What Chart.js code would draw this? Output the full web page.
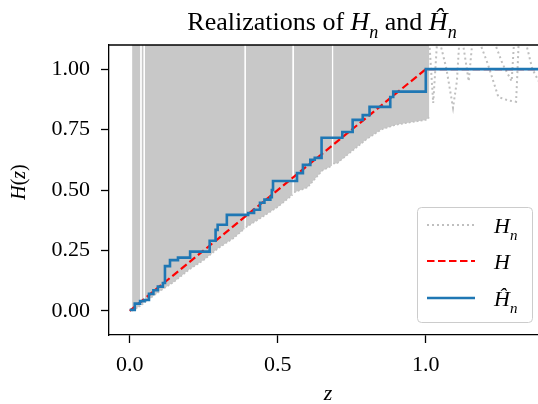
<!DOCTYPE html>
<html>
<head>
<meta charset="utf-8">
<script src="https://cdn.jsdelivr.net/npm/chart.js@4.4.0/dist/chart.umd.min.js"></script>
<style>
  body { margin: 0; background: #fff; }
  canvas { display: block; }
</style>
</head>
<body>
<canvas id="realizations" width="538" height="404"></canvas>
<script>
// lower edge of the band covered by the H_n realizations (null = a thin gap between curves)
var hnLowZ = [0.008, 0.036, 0.038, 0.040, 0.047, 0.049, 0.051, 0.10, 0.15, 0.20, 0.25, 0.30, 0.35, 0.388, 0.39, 0.392,
  0.45, 0.50, 0.55, 0.552, 0.555, 0.60, 0.65, 0.683, 0.685, 0.687, 0.70, 0.75, 0.80, 0.85, 0.90, 0.95, 1.00, 1.012];
var hnLowH = [0.00, 0.02, null, 0.025, 0.03, null, 0.035, 0.08, 0.12, 0.17, 0.21, 0.26, 0.30, 0.34, null, 0.345,
  0.39, 0.43, 0.48, null, 0.49, 0.51, 0.58, 0.60, null, 0.61, 0.61, 0.66, 0.71, 0.75, 0.77, 0.78, 0.79, 0.80];

// H_n realizations past z = 1
var tailZ = [
  [1.010, 1.025, 1.040],
  [1.040, 1.070, 1.092, 1.105, 1.115],
  [1.120, 1.145, 1.160],
  [1.170, 1.210, 1.245, 1.280, 1.305, 1.310, 1.315],
  [1.220, 1.260, 1.290, 1.300],
  [1.330, 1.360, 1.390]
];
var tailH = [
  [1.15, 0.86, 1.15],
  [1.15, 1.00, 0.84, 0.95, 1.15],
  [1.15, 0.95, 1.15],
  [1.15, 1.02, 0.885, 0.87, 0.865, 1.00, 1.15],
  [1.15, 1.02, 0.95, 1.15],
  [1.15, 1.00, 0.93]
];

// true H
var hZ = [0, 1, 1.45];
var hH = [0, 1, 1];

// estimate H-hat_n (step function, value after each jump)
var hatZ = [0, 0.017, 0.035, 0.05, 0.065, 0.08, 0.095, 0.112, 0.119, 0.136, 0.163, 0.204, 0.27, 0.29, 0.297, 0.328,
  0.40, 0.42, 0.44, 0.455, 0.475, 0.48, 0.484, 0.565, 0.585, 0.61, 0.625, 0.648, 0.718, 0.753, 0.787, 0.81, 0.88, 0.89, 1.0, 1.45];
var hatH = [0.004, 0.03, 0.04, 0.045, 0.07, 0.085, 0.10, 0.115, 0.185, 0.21, 0.22, 0.245, 0.29, 0.335, 0.356, 0.397,
  0.405, 0.418, 0.447, 0.46, 0.47, 0.50, 0.537, 0.57, 0.604, 0.625, 0.633, 0.716, 0.74, 0.79, 0.81, 0.844, 0.885, 0.907, 1.0, 1.0];

var yTicks = [0, 0.25, 0.5, 0.75, 1.0];
var xTicks = [0, 0.5, 1.0];

var SERIF = '"Liberation Serif", "Times New Roman", serif';
var GRAY = '#c8c8c8';

function pts(xs, ys) {
  return xs.map(function (x, i) { return { x: x, y: ys[i] }; });
}

var datasets = [
  {
    label: 'H_n',
    data: pts(hnLowZ, hnLowH),
    borderColor: '#c0c0c0',
    borderWidth: 1.5,
    borderDash: [2, 2],
    backgroundColor: GRAY,
    fill: 'end',
    spanGaps: false,
    pointRadius: 0,
    order: 3
  }
];
tailZ.forEach(function (zs, i) {
  datasets.push({
    label: 'H_n tail ' + i,
    data: pts(zs, tailH[i]),
    borderColor: '#bfbfbf',
    borderWidth: 2,
    borderDash: [2, 3],
    pointRadius: 0,
    fill: false,
    order: 3
  });
});
datasets.push({
  label: 'H',
  data: pts(hZ, hH),
  borderColor: '#ff0000',
  borderWidth: 2.2,
  borderDash: [7.5, 3.5],
  pointRadius: 0,
  fill: false,
  order: 2
});
datasets.push({
  label: 'H_hat',
  data: pts(hatZ, hatH),
  borderColor: '#1f77b4',
  borderWidth: 2.6,
  stepped: true,
  pointRadius: 0,
  fill: false,
  order: 1
});

// text with italic / subscript parts
function runFont(r, size) {
  return (r.it ? 'italic ' : '') + Math.round(r.sub ? size * 0.7 : size) + 'px ' + SERIF;
}
function runsWidth(ctx, runs, size) {
  var w = 0;
  runs.forEach(function (r) { ctx.font = runFont(r, size); w += ctx.measureText(r.t).width; });
  return w;
}
function drawRuns(ctx, runs, x, y, size, align) {
  var cx = align === 'center' ? x - runsWidth(ctx, runs, size) / 2 : x;
  runs.forEach(function (r) {
    ctx.font = runFont(r, size);
    ctx.fillText(r.t, cx, y + (r.sub ? size * 0.3 : 0));
    cx += ctx.measureText(r.t).width;
  });
}

var titleRuns = [{ t: 'Realizations of ' }, { t: 'H', it: 1 }, { t: 'n', it: 1, sub: 1 }, { t: ' and ' },
  { t: '\u0124', it: 1 }, { t: 'n', it: 1, sub: 1 }];
var yLabelRuns = [{ t: 'H', it: 1 }, { t: '(' }, { t: 'z', it: 1 }, { t: ')' }];
var xLabelRuns = [{ t: 'z', it: 1 }];
var legendItems = [
  { line: { color: '#bfbfbf', width: 2, dash: [2, 3] }, runs: [{ t: 'H', it: 1 }, { t: 'n', it: 1, sub: 1 }] },
  { line: { color: '#ff0000', width: 2.2, dash: [7.5, 3.5] }, runs: [{ t: 'H', it: 1 }] },
  { line: { color: '#1f77b4', width: 2.6, dash: [] }, runs: [{ t: '\u0124', it: 1 }, { t: 'n', it: 1, sub: 1 }] }
];

var decorations = {
  id: 'decorations',
  afterDraw: function (chart) {
    var ctx = chart.ctx;
    var a = chart.chartArea;
    ctx.save();
    // top spine
    ctx.strokeStyle = '#000';
    ctx.lineWidth = 1.3;
    ctx.beginPath();
    ctx.moveTo(a.left, a.top);
    ctx.lineTo(a.right, a.top);
    ctx.stroke();

    ctx.fillStyle = '#000';
    ctx.textBaseline = 'alphabetic';
    drawRuns(ctx, titleRuns, 322, 30, 26, 'center');
    drawRuns(ctx, xLabelRuns, 328, 400, 22, 'center');
    ctx.save();
    ctx.translate(25, 182);
    ctx.rotate(-Math.PI / 2);
    drawRuns(ctx, yLabelRuns, 0, 0, 20, 'center');
    ctx.restore();

    // legend box
    var bx = 417.5, by = 207.5, bw = 115, bh = 115, rad = 4;
    ctx.beginPath();
    ctx.moveTo(bx + rad, by);
    ctx.arcTo(bx + bw, by, bx + bw, by + bh, rad);
    ctx.arcTo(bx + bw, by + bh, bx, by + bh, rad);
    ctx.arcTo(bx, by + bh, bx, by, rad);
    ctx.arcTo(bx, by, bx + bw, by, rad);
    ctx.closePath();
    ctx.fillStyle = 'rgba(255,255,255,0.8)';
    ctx.fill();
    ctx.strokeStyle = '#cccccc';
    ctx.lineWidth = 1;
    ctx.stroke();

    var rowY = [225, 261, 298];
    legendItems.forEach(function (it, i) {
      ctx.strokeStyle = it.line.color;
      ctx.lineWidth = it.line.width;
      ctx.setLineDash(it.line.dash);
      ctx.beginPath();
      ctx.moveTo(427, rowY[i]);
      ctx.lineTo(475, rowY[i]);
      ctx.stroke();
      ctx.setLineDash([]);
      ctx.fillStyle = '#000';
      drawRuns(ctx, it.runs, 494, rowY[i] + 8, 22, 'left');
    });
    ctx.restore();
  }
};

new Chart(document.getElementById('realizations'), {
  type: 'line',
  data: { datasets: datasets },
  plugins: [decorations],
  options: {
    responsive: false,
    animation: false,
    layout: { padding: { top: 45, right: 0, left: 0, bottom: 0 } },
    plugins: { legend: { display: false }, tooltip: { enabled: false }, title: { display: false } },
    scales: {
      x: {
        type: 'linear',
        min: -0.07,
        max: 1.379,
        afterFit: function (s) { s.height = 69; },
        afterBuildTicks: function (s) { s.ticks = xTicks.map(function (v) { return { value: v }; }); },
        grid: { drawOnChartArea: false, drawTicks: true, tickLength: 8, tickColor: '#000', tickWidth: 1.3 },
        border: { display: true, color: '#000', width: 1.3 },
        ticks: {
          color: '#000',
          padding: 9,
          maxRotation: 0,
          font: { family: SERIF, size: 22 },
          callback: function (v) { return v.toFixed(1); }
        }
      },
      y: {
        type: 'linear',
        min: -0.1,
        max: 1.1,
        afterFit: function (s) { s.width = 109; },
        afterBuildTicks: function (s) { s.ticks = yTicks.map(function (v) { return { value: v }; }); },
        grid: { drawOnChartArea: false, drawTicks: true, tickLength: 8, tickColor: '#000', tickWidth: 1.3 },
        border: { display: true, color: '#000', width: 1.3 },
        ticks: {
          color: '#000',
          padding: 11,
          font: { family: SERIF, size: 22 },
          callback: function (v) { return v.toFixed(2); }
        }
      }
    }
  }
});
</script>
</body>
</html>
